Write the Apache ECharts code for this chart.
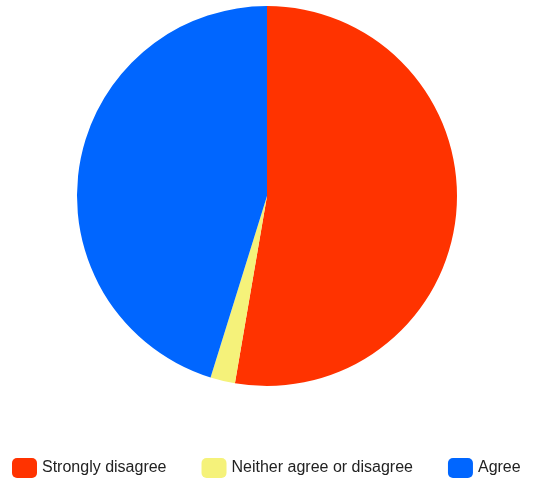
<!DOCTYPE html>
<html><head><meta charset="utf-8">
<script src="https://cdn.jsdelivr.net/npm/echarts@6/dist/echarts.min.js"></script>
<style>html,body{margin:0;padding:0;background:#fff}#c{width:551px;height:480px}</style>
</head><body><div id="c"></div>
<script>
const categories = ["Strongly disagree", "Neither agree or disagree", "Agree"];
const values = [52.7, 2.1, 45.2];
const colors = ["#FF3300", "#F5F27A", "#0066FF"];

const chart = echarts.init(document.getElementById('c'), null, {renderer: 'canvas'});
chart.setOption({
  animation: false,
  color: colors,
  legend: {
    left: 12, top: 458, padding: 0,
    icon: 'roundRect',
    itemWidth: 25, itemHeight: 20, itemGap: 35,
    textStyle: {fontSize: 16, color: '#222', fontFamily: 'Liberation Sans, Arial, sans-serif'},
    data: categories
  },
  series: [{
    type: 'pie',
    center: [267, 196],
    radius: 190,
    startAngle: 90,
    clockwise: true,
    label: {show: false},
    labelLine: {show: false},
    itemStyle: {borderWidth: 0},
    data: categories.map((n, i) => ({name: n, value: values[i]}))
  }]
});
</script></body></html>
